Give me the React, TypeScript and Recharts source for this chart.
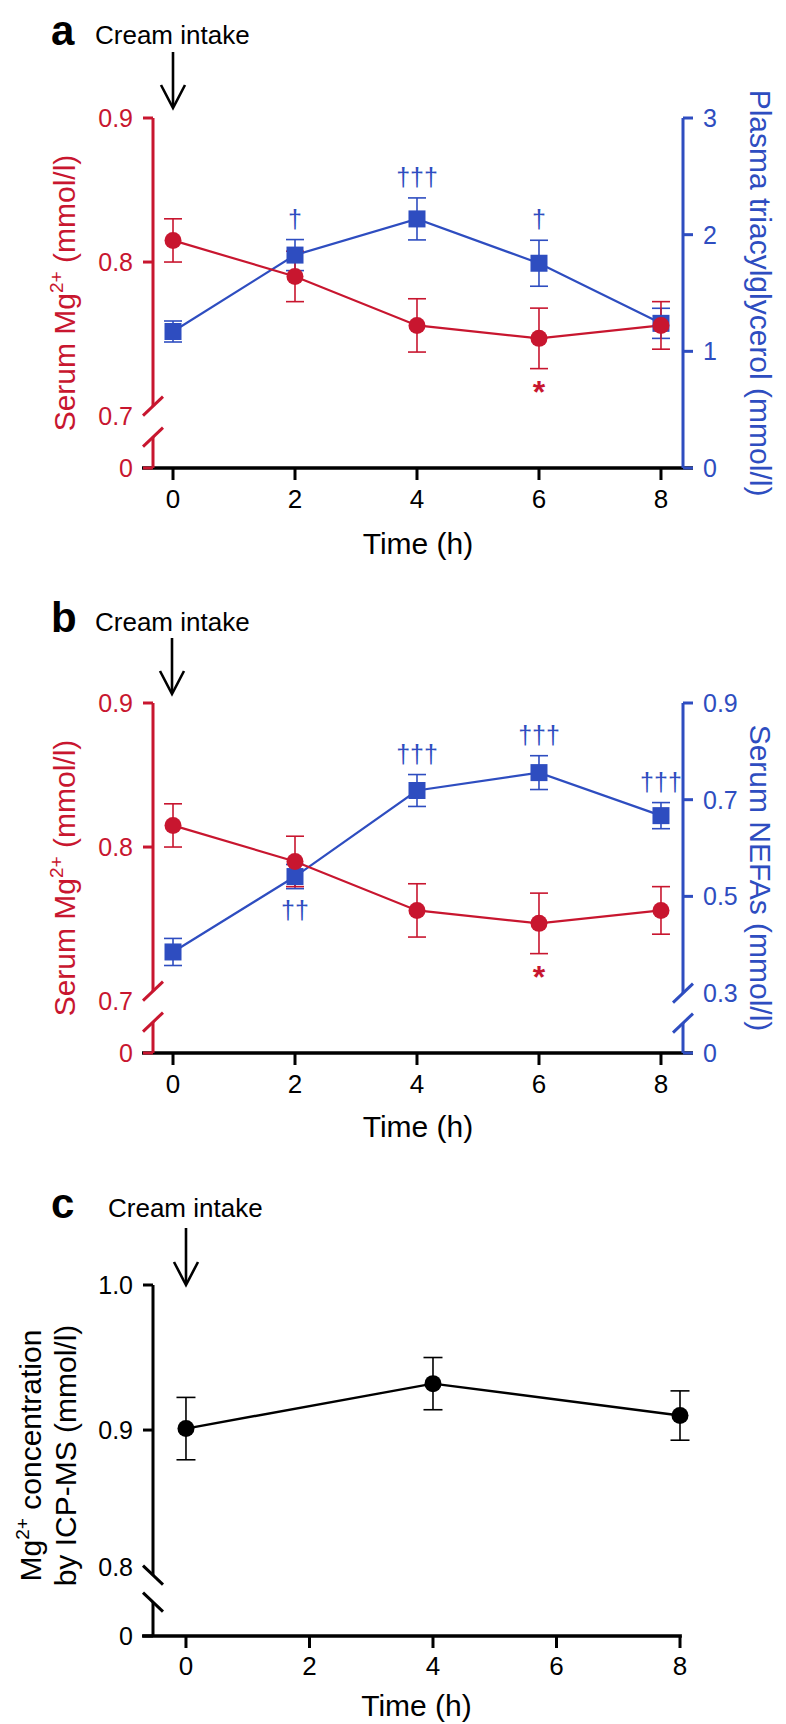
import { LineChart, Line, XAxis, YAxis, ErrorBar, ReferenceLine } from 'recharts';

const FONT = '"Liberation Sans", Arial, Helvetica, sans-serif';
const RED = '#C8162F';
const BLUE = '#2E4DC0';
const BLACK = '#000000';

// sampling times (h)
const hours = [0, 2, 4, 6, 8];
const hourTicks = [0, 2, 4, 6, 8];

// serum Mg2+ (mmol/l), mean and SEM; the same measurements appear in a and b
const mgMean = [0.815, 0.79, 0.756, 0.747, 0.756];
const mgSem = [0.015, 0.0175, 0.0185, 0.021, 0.0165];
const mgMarks = ['', '', '', '*', ''];

// plasma triacylglycerol (mmol/l)
const tgMean = [1.17, 1.825, 2.135, 1.755, 1.24];
const tgSem = [0.09, 0.133, 0.18, 0.197, 0.129];
const tgMarks = ['', '†', '†††', '†', ''];

// serum NEFAs (mmol/l)
const nefaMean = [0.385, 0.541, 0.719, 0.756, 0.667];
const nefaSem = [0.028, 0.025, 0.033, 0.035, 0.027];
const nefaMarksAbove = ['', '', '†††', '†††', '†††'];
const nefaMarksBelow = ['', '††', '', '', ''];

// Mg2+ by ICP-MS (mmol/l)
const icpHours = [0, 4, 8];
const icpMean = [0.901, 0.932, 0.91];
const icpSem = [0.0215, 0.018, 0.017];

// tick values of the (broken) y axes
const mgTicks = [0, 0.7, 0.8, 0.9];
const tgTicks = [0, 1, 2, 3];
const nefaTicks = [0, 0.3, 0.5, 0.7, 0.9];
const icpTicks = [0, 0.8, 0.9, 1.0];

// broken axis: everything from `from` upward sits `gap` units above zero
const broken = (from: number, gap: number) => (v: number) => (v <= 0 ? 0 : v - from + gap);
const mgAxis = broken(0.7, 0.043);
const nefaAxis = broken(0.3, 0.124);
const icpAxis = broken(0.8, 0.042);

const rowsA = hours.map((h, i) => ({
  hour: h,
  mg: mgAxis(mgMean[i]),
  mgErr: mgSem[i],
  mgLo: mgAxis(mgMean[i] - mgSem[i]),
  tg: tgMean[i],
  tgErr: tgSem[i],
  tgHi: tgMean[i] + tgSem[i],
}));

const rowsB = hours.map((h, i) => ({
  hour: h,
  mg: mgAxis(mgMean[i]),
  mgErr: mgSem[i],
  mgLo: mgAxis(mgMean[i] - mgSem[i]),
  nefa: nefaAxis(nefaMean[i]),
  nefaErr: nefaSem[i],
  nefaHi: nefaAxis(nefaMean[i] + nefaSem[i]),
  nefaLo: nefaAxis(nefaMean[i] - nefaSem[i]),
}));

const rowsC = icpHours.map((h, i) => ({
  hour: h,
  icp: icpAxis(icpMean[i]),
  icpErr: icpSem[i],
}));

type AxisSpec = {
  side: 'left' | 'right';
  color: string;
  labels: string[];
  breakIndex: number;
  breakGap: number;
  breakLabelDy: number;
  slash: 1 | -1;
};

const fmt = (v: number) => (Number.isInteger(v) && v !== 1 ? String(v) : v.toFixed(1));

function YTick(props: any) {
  const { x, y, index, spec } = props as { x: number; y: number; index: number; spec: AxisSpec };
  const dir = spec.side === 'left' ? -1 : 1;
  const isBreak = index === spec.breakIndex;
  return (
    <g>
      {!isBreak && (
        <line x1={x} y1={y} x2={x + dir * 10} y2={y} stroke={spec.color} strokeWidth={3} />
      )}
      {isBreak &&
        [0, spec.breakGap].map((off) => (
          <line
            key={off}
            x1={x - 10}
            y1={y + off + 9.5 * spec.slash}
            x2={x + 10}
            y2={y + off - 9.5 * spec.slash}
            stroke={spec.color}
            strokeWidth={3}
          />
        ))}
      <text
        x={x + dir * 20}
        y={y + (isBreak ? spec.breakLabelDy : 0) + 9}
        textAnchor={dir < 0 ? 'end' : 'start'}
        fontFamily={FONT}
        fontSize={25}
        fill={spec.color}
      >
        {spec.labels[index]}
      </text>
    </g>
  );
}

// dash pattern that leaves the gap of a broken axis line
const breakDash = (plotH: number, max: number, breakAt: number, gapPx: number) =>
  `${((max - breakAt) / max) * plotH} ${gapPx} ${plotH}`;

const squareDot = (color: string) => (p: any) => (
  <rect key={`sq${p.index}`} x={p.cx - 8.5} y={p.cy - 8.5} width={17} height={17} fill={color} />
);

const markDot = (marks: string[], color: string, below: boolean) => (p: any) => {
  const text = marks[p.index];
  const key = `mk${p.index}`;
  if (!text || p.cx == null) return <g key={key} />;
  const star = text === '*';
  return (
    <text
      key={key}
      x={p.cx}
      y={below ? p.cy + (star ? 34 : 30) : p.cy - 12}
      textAnchor="middle"
      fill={color}
      fontFamily={FONT}
      fontSize={star ? 32 : 25}
      fontWeight={star ? 700 : 400}
    >
      {text}
    </text>
  );
};

const leftTitle = (lines: any[], baselines: number[], color: string, shift = 0) => (p: any) => {
  const vb = p.viewBox;
  const cy = vb.y + vb.height / 2 + shift;
  return (
    <g>
      {lines.map((ln, i) => (
        <text
          key={i}
          transform={`translate(${baselines[i]},${cy}) rotate(-90)`}
          textAnchor="middle"
          fontFamily={FONT}
          fontSize={30}
          fill={color}
        >
          {ln}
        </text>
      ))}
    </g>
  );
};

const rightTitle = (text: string, baseline: number, color: string) => (p: any) => {
  const vb = p.viewBox;
  const cy = vb.y + vb.height / 2;
  return (
    <text
      transform={`translate(${baseline},${cy}) rotate(90)`}
      textAnchor="middle"
      fontFamily={FONT}
      fontSize={30}
      fill={color}
    >
      {text}
    </text>
  );
};

const timeTitle = (drop: number) => (p: any) => {
  const vb = p.viewBox;
  return (
    <text x={vb.x + vb.width / 2} y={vb.y + drop} textAnchor="middle" fontFamily={FONT} fontSize={30} fill={BLACK}>
      Time (h)
    </text>
  );
};

const mgTitle = [
  <>
    <tspan>Serum Mg</tspan>
    <tspan fontSize={19} dy={-12}>2+</tspan>
    <tspan dy={12}> (mmol/l)</tspan>
  </>,
];

const PLOT_H = 350;

const mgSpec: AxisSpec = {
  side: 'left',
  color: RED,
  labels: mgTicks.map(fmt),
  breakIndex: 1,
  breakGap: 31,
  breakLabelDy: 10,
  slash: 1,
};
const tgSpec: AxisSpec = {
  side: 'right',
  color: BLUE,
  labels: tgTicks.map(String),
  breakIndex: -1,
  breakGap: 0,
  breakLabelDy: 0,
  slash: 1,
};
const nefaSpec: AxisSpec = {
  side: 'right',
  color: BLUE,
  labels: nefaTicks.map(fmt),
  breakIndex: 1,
  breakGap: 30,
  breakLabelDy: 0,
  slash: 1,
};
const icpSpec: AxisSpec = {
  side: 'left',
  color: BLACK,
  labels: icpTicks.map(fmt),
  breakIndex: 1,
  breakGap: 27,
  breakLabelDy: -8,
  slash: -1,
};

const xAxisProps = {
  dataKey: 'hour',
  type: 'number' as const,
  ticks: hourTicks,
  axisLine: false,
  tickLine: { stroke: BLACK, strokeWidth: 3 },
  tickSize: 12,
  tick: { fill: BLACK, fontSize: 26, fontFamily: FONT },
  interval: 0 as const,
};

function PanelA() {
  const mgMax = mgAxis(0.9);
  return (
    <LineChart width={786} height={585} data={rowsA} margin={{ top: 118, right: 0, bottom: 0, left: 0 }}>
      <XAxis {...xAxisProps} domain={[-0.328, 8.361]} height={117} tickMargin={10} label={timeTitle(86)} />
      <YAxis
        yAxisId="left"
        width={153}
        domain={[0, mgMax]}
        ticks={mgTicks.map(mgAxis)}
        interval={0}
        tickSize={0}
        tickMargin={0}
        tickLine={false}
        axisLine={{ stroke: RED, strokeWidth: 3, strokeDasharray: breakDash(PLOT_H, mgMax, mgAxis(0.7), 31) }}
        tick={(p: any) => <YTick {...p} spec={mgSpec} />}
        label={leftTitle(mgTitle, [75], RED)}
      />
      <YAxis
        yAxisId="right"
        orientation="right"
        width={103}
        domain={[0, 3]}
        ticks={tgTicks}
        interval={0}
        tickSize={0}
        tickMargin={0}
        tickLine={false}
        axisLine={{ stroke: BLUE, strokeWidth: 3 }}
        tick={(p: any) => <YTick {...p} spec={tgSpec} />}
        label={rightTitle('Plasma triacylglycerol (mmol/l)', 750, BLUE)}
      />
      <ReferenceLine
        yAxisId="left"
        segment={[{ x: -0.508, y: 0 }, { x: 8.525, y: 0 }]}
        stroke={BLACK}
        strokeWidth={3.5}
        ifOverflow="visible"
      />
      <Line
        yAxisId="right"
        dataKey="tg"
        stroke={BLUE}
        strokeWidth={2.2}
        dot={squareDot(BLUE)}
        activeDot={false}
        isAnimationActive={false}
      >
        <ErrorBar dataKey="tgErr" width={9} strokeWidth={1.6} stroke={BLUE} direction="y" />
      </Line>
      <Line
        yAxisId="left"
        dataKey="mg"
        stroke={RED}
        strokeWidth={2.2}
        dot={{ r: 8.5, fill: RED, stroke: 'none' }}
        activeDot={false}
        isAnimationActive={false}
      >
        <ErrorBar dataKey="mgErr" width={9} strokeWidth={1.6} stroke={RED} direction="y" />
      </Line>
      <Line
        yAxisId="right"
        dataKey="tgHi"
        stroke="none"
        dot={markDot(tgMarks, BLUE, false)}
        activeDot={false}
        isAnimationActive={false}
      />
      <Line
        yAxisId="left"
        dataKey="mgLo"
        stroke="none"
        dot={markDot(mgMarks, RED, true)}
        activeDot={false}
        isAnimationActive={false}
      />
    </LineChart>
  );
}

function PanelB() {
  const mgMax = mgAxis(0.9);
  const nefaMax = nefaAxis(0.9);
  return (
    <LineChart width={786} height={585} data={rowsB} margin={{ top: 118, right: 0, bottom: 0, left: 0 }}>
      <XAxis {...xAxisProps} domain={[-0.328, 8.361]} height={117} tickMargin={10} label={timeTitle(84)} />
      <YAxis
        yAxisId="left"
        width={153}
        domain={[0, mgMax]}
        ticks={mgTicks.map(mgAxis)}
        interval={0}
        tickSize={0}
        tickMargin={0}
        tickLine={false}
        axisLine={{ stroke: RED, strokeWidth: 3, strokeDasharray: breakDash(PLOT_H, mgMax, mgAxis(0.7), 31) }}
        tick={(p: any) => <YTick {...p} spec={mgSpec} />}
        label={leftTitle(mgTitle, [75], RED)}
      />
      <YAxis
        yAxisId="right"
        orientation="right"
        width={103}
        domain={[0, nefaMax]}
        ticks={nefaTicks.map(nefaAxis)}
        interval={0}
        tickSize={0}
        tickMargin={0}
        tickLine={false}
        axisLine={{ stroke: BLUE, strokeWidth: 3, strokeDasharray: breakDash(PLOT_H, nefaMax, nefaAxis(0.3), 30) }}
        tick={(p: any) => <YTick {...p} spec={nefaSpec} />}
        label={rightTitle('Serum NEFAs (mmol/l)', 750, BLUE)}
      />
      <ReferenceLine
        yAxisId="left"
        segment={[{ x: -0.508, y: 0 }, { x: 8.525, y: 0 }]}
        stroke={BLACK}
        strokeWidth={3.5}
        ifOverflow="visible"
      />
      <Line
        yAxisId="right"
        dataKey="nefa"
        stroke={BLUE}
        strokeWidth={2.2}
        dot={squareDot(BLUE)}
        activeDot={false}
        isAnimationActive={false}
      >
        <ErrorBar dataKey="nefaErr" width={9} strokeWidth={1.6} stroke={BLUE} direction="y" />
      </Line>
      <Line
        yAxisId="left"
        dataKey="mg"
        stroke={RED}
        strokeWidth={2.2}
        dot={{ r: 8.5, fill: RED, stroke: 'none' }}
        activeDot={false}
        isAnimationActive={false}
      >
        <ErrorBar dataKey="mgErr" width={9} strokeWidth={1.6} stroke={RED} direction="y" />
      </Line>
      <Line
        yAxisId="right"
        dataKey="nefaHi"
        stroke="none"
        dot={markDot(nefaMarksAbove, BLUE, false)}
        activeDot={false}
        isAnimationActive={false}
      />
      <Line
        yAxisId="right"
        dataKey="nefaLo"
        stroke="none"
        dot={markDot(nefaMarksBelow, BLUE, true)}
        activeDot={false}
        isAnimationActive={false}
      />
      <Line
        yAxisId="left"
        dataKey="mgLo"
        stroke="none"
        dot={markDot(mgMarks, RED, true)}
        activeDot={false}
        isAnimationActive={false}
      />
    </LineChart>
  );
}

function PanelC() {
  const icpMax = icpAxis(1.0);
  const title = [
    <>
      <tspan>Mg</tspan>
      <tspan fontSize={19} dy={-12}>2+</tspan>
      <tspan dy={12}> concentration</tspan>
    </>,
    'by ICP-MS (mmol/l)',
  ];
  return (
    <LineChart width={786} height={554} data={rowsC} margin={{ top: 115, right: 106, bottom: 0, left: 0 }}>
      <XAxis {...xAxisProps} domain={[-0.534, 8]} height={88} tickMargin={9} label={timeTitle(80)} />
      <YAxis
        yAxisId="left"
        width={153}
        domain={[0, icpMax]}
        ticks={icpTicks.map(icpAxis)}
        interval={0}
        tickSize={0}
        tickMargin={0}
        tickLine={false}
        axisLine={{ stroke: BLACK, strokeWidth: 3, strokeDasharray: breakDash(351, icpMax, icpAxis(0.8), 27) }}
        tick={(p: any) => <YTick {...p} spec={icpSpec} />}
        label={leftTitle(title, [41, 76], BLACK, -5)}
      />
      <ReferenceLine
        yAxisId="left"
        segment={[{ x: -0.712, y: 0 }, { x: 8.03, y: 0 }]}
        stroke={BLACK}
        strokeWidth={3.5}
        ifOverflow="visible"
      />
      <Line
        yAxisId="left"
        dataKey="icp"
        stroke={BLACK}
        strokeWidth={2.4}
        dot={{ r: 8.5, fill: BLACK, stroke: 'none' }}
        activeDot={false}
        isAnimationActive={false}
      >
        <ErrorBar dataKey="icpErr" width={9.5} strokeWidth={1.6} stroke={BLACK} direction="y" />
      </Line>
    </LineChart>
  );
}

function Arrow({ x, y1, y2 }: { x: number; y1: number; y2: number }) {
  return (
    <g stroke={BLACK} strokeWidth={2.6} fill="none">
      <line x1={x} y1={y1} x2={x} y2={y2 - 1} />
      <polyline points={`${x - 12},${y2 - 23} ${x},${y2} ${x + 12},${y2 - 23}`} />
    </g>
  );
}

function Header({ letter, x, base, arrowX, arrowTop, arrowTip }: any) {
  return (
    <g>
      <text x={51} y={base + 1} fontFamily={FONT} fontSize={42} fontWeight={700} fill={BLACK}>
        {letter}
      </text>
      <text x={x} y={base} fontFamily={FONT} fontSize={26} fill={BLACK}>
        Cream intake
      </text>
      <Arrow x={arrowX} y1={arrowTop} y2={arrowTip} />
    </g>
  );
}

export default function App() {
  return (
    <div style={{ position: 'absolute', left: 0, top: 0, width: 786, height: 1724, background: '#fff' }}>
      <div style={{ position: 'absolute', left: 0, top: 0 }}>
        <PanelA />
      </div>
      <div style={{ position: 'absolute', left: 0, top: 585 }}>
        <PanelB />
      </div>
      <div style={{ position: 'absolute', left: 0, top: 1170 }}>
        <PanelC />
      </div>
      <svg
        width={786}
        height={1724}
        style={{ position: 'absolute', left: 0, top: 0, pointerEvents: 'none' }}
      >
        <Header letter="a" x={95} base={44} arrowX={173} arrowTop={52} arrowTip={108} />
        <Header letter="b" x={95} base={631} arrowX={172} arrowTop={638} arrowTip={694} />
        <Header letter="c" x={108} base={1217} arrowX={186} arrowTop={1228} arrowTip={1285} />
      </svg>
    </div>
  );
}
